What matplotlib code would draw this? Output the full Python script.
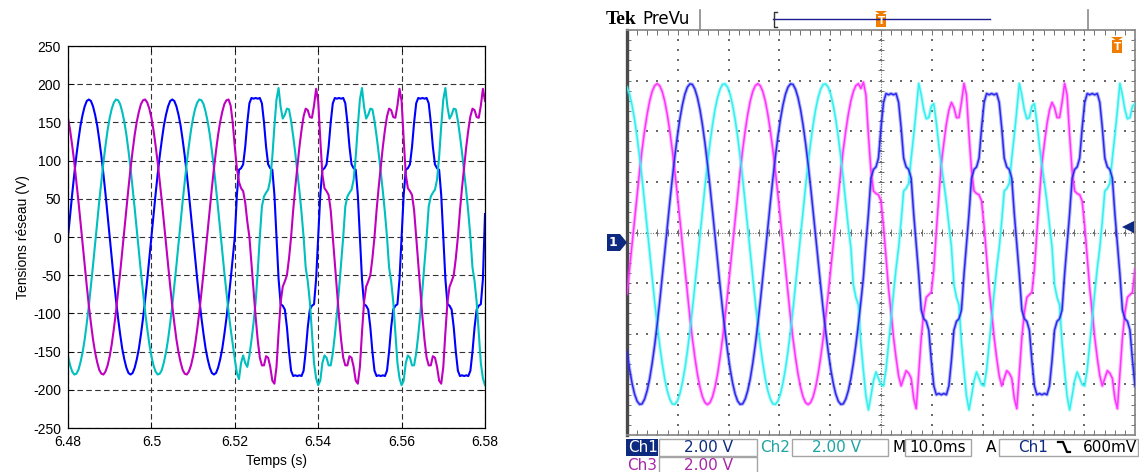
import numpy as np
import matplotlib
matplotlib.use("Agg")
import matplotlib.pyplot as plt
from matplotlib.patches import Rectangle, Polygon

W, H = 1139, 472

# ---------------- LEFT PANEL DATA (simulation, volts) ----------------
left_t_start, left_t_end, left_n = 6.48, 6.58, 201          # 0.5 ms sampling
left_xticks = [6.48, 6.50, 6.52, 6.54, 6.56, 6.58]
left_xticklabels = ['6.48', '6.5', '6.52', '6.54', '6.56', '6.58']
left_yticks = [-250, -200, -150, -100, -50, 0, 50, 100, 150, 200, 250]

# one 20 ms cycle read before the disturbance
blue_clean_cycle = [0, 28, 56, 82, 106, 127, 146, 160, 171, 178, 180, 178, 171, 160, 146, 127, 106, 82, 56, 28,
                    0, -28, -56, -82, -106, -127, -146, -160, -171, -178, -180, -178, -171, -160, -146, -127, -106, -82, -56, -28]
cyan_clean_cycle = [-156, -168, -176, -180, -179, -174, -164, -151, -134, -113, -90, -64, -37, -9, 19, 47, 73, 98, 120, 140,
                    156, 168, 176, 180, 179, 174, 164, 151, 134, 113, 90, 64, 37, 9, -19, -47, -73, -98, -120, -140]
magenta_clean_cycle = [156, 140, 120, 98, 73, 47, 19, -9, -37, -64, -90, -113, -134, -151, -164, -174, -179, -180, -176, -168,
                       -156, -140, -120, -98, -73, -47, -19, 9, 37, 64, 90, 113, 134, 151, 164, 174, 179, 180, 176, 168]
# one cycle read after the disturbance (t >= 6.52 s)
blue_dist_cycle = [0, 55, 88, 90, 95, 118, 150, 175, 182, 181, 182, 181, 182, 175, 150, 118, 95, 90, 88, 55,
                   0, -55, -88, -90, -95, -118, -150, -175, -182, -181, -182, -181, -182, -175, -150, -118, -95, -90, -88, -55]
cyan_dist_cycle = [0, 40, 53, 58, 62, 75, 105, 145, 180, 195, 170, 155, 160, 168, 167, 152, 132, 110, 85, 60, 32,
                   0, -40, -58, -85, -125, -165, -185, -194, -188, -165, -155, -158, -168, -168, -152, -128, -100, -68, -34]
cyan_transition = [9, -19, -47, -73, -98, -120, -140, -160, -178, -186, -165, -155, -165, -170, -155, -135, -112, -85, -45]
magenta_dist_pos = [0, 35, 65, 92, 118, 140, 158, 168, 166, 157, 156, 172, 194, 178, 128, 82, 64, 60, 55, 35]
magenta_dist_neg = [0, -35, -70, -105, -135, -158, -168, -168, -156, -158, -170, -188, -192, -170, -125, -85, -65, -58, -50, -28]
magenta_transition = [172, 150, 118, 90, 72, 64, 60, 45, 20]
blue_last = [30]

blue_left = blue_clean_cycle * 2 + blue_dist_cycle * 3 + blue_last
cyan_left = (cyan_clean_cycle + cyan_clean_cycle[:33] + cyan_transition
             + cyan_dist_cycle * 2 + cyan_dist_cycle[:29])
magenta_left = (magenta_clean_cycle + magenta_clean_cycle[:38] + magenta_transition
                + magenta_dist_neg + (magenta_dist_pos + magenta_dist_neg) * 2 + magenta_dist_pos[:14])

# ---------------- RIGHT PANEL DATA (oscilloscope, volts, 2 V/div, 10 ms/div) ----------------
scope_t_end, scope_n = 100.0, 203
scope_blue_clean = [-4.24, -4.93, -5.49, -5.92, -6.20, -6.33, -6.31, -6.12, -5.79, -5.32,
                    -4.71, -3.99, -3.17, -2.27, -1.32, -0.33, 0.66, 1.64, 2.58, 3.45,
                    4.24, 4.93, 5.49, 5.92, 6.20, 6.33, 6.31, 6.12, 5.79, 5.32,
                    4.71, 3.99, 3.17, 2.27, 1.32, 0.33, -0.66, -1.64, -2.58, -3.45]
scope_cyan_clean = [6.20, 5.92, 5.49, 4.93, 4.24, 3.45, 2.58, 1.64, 0.66, -0.33,
                    -1.32, -2.27, -3.17, -3.99, -4.71, -5.32, -5.79, -6.12, -6.31, -6.33,
                    -6.20, -5.92, -5.49, -4.93, -4.24, -3.45, -2.58, -1.64, -0.66, 0.33,
                    1.32, 2.27, 3.17, 3.99, 4.71, 5.32, 5.79, 6.12, 6.31, 6.33]
scope_magenta_clean = [-1.96, -0.99, 0, 0.99, 1.96, 2.88, 3.73, 4.48, 5.13, 5.65,
                       6.03, 6.26, 6.34, 6.26, 6.03, 5.65, 5.13, 4.48, 3.73, 2.88,
                       1.96, 0.99, 0, -0.99, -1.96, -2.88, -3.73, -4.48, -5.13, -5.65,
                       -6.03, -6.26, -6.34, -6.26, -6.03, -5.65, -5.13, -4.48, -3.73, -2.88]
scope_blue_dist = [0, 1.2, 2.6, 2.95, 3.05, 3.4, 4.6, 5.6, 5.95, 5.9,
                   5.95, 5.9, 5.95, 5.6, 4.6, 3.4, 3.05, 2.95, 2.6, 1.2,
                   0, -1.2, -2.6, -2.95, -3.05, -3.4, -4.6, -5.6, -5.95, -5.9,
                   -5.95, -5.9, -5.95, -5.6, -4.6, -3.4, -3.05, -2.95, -2.6, -1.2]
scope_cyan_dist = [0.9, 2.1, 2.2, 2.4, 3.4, 4.3, 5.3, 6.35, 5.9, 5.3,
                   4.95, 5.0, 5.45, 5.55, 4.8, 3.9, 3.1, 2.4, 1.65, 0.75,
                   -0.1, -1.6, -2.1, -2.4, -3.9, -5.0, -6.0, -6.55, -6.0, -5.4,
                   -5.05, -5.3, -5.55, -5.6, -4.95, -3.95, -2.95, -1.9, -0.95, -0.15]
scope_magenta_dist = [0.5, 1.9, 3.2, 4.0, 4.75, 5.3, 5.6, 5.4, 5.0, 5.0,
                      5.6, 6.35, 5.9, 4.3, 2.9, 2.1, 2.0, 1.95, 1.7, 0.7,
                      -0.5, -1.75, -2.7, -3.7, -4.5, -5.2, -5.6, -5.3, -5.0, -5.1,
                      -5.3, -6.1, -6.5, -5.1, -3.7, -2.7, -2.1, -2.0, -1.9, -1.0]
scope_magenta_transition = [6.34, 6.15, 6.4, 5.9, 4.3, 2.9, 2.1, 2.0, 1.95, 1.7, 0.7]

scope_blue = scope_blue_clean * 2 + scope_blue_clean[:15] + scope_blue_dist * 2 + scope_blue_dist[:28]
scope_cyan = (scope_cyan_clean * 2 + scope_cyan_clean[:9] + scope_cyan_dist[20:]
              + scope_cyan_dist * 2 + scope_cyan_dist[:14])
scope_magenta = (scope_magenta_clean * 2 + scope_magenta_clean[:12] + scope_magenta_transition
                 + scope_magenta_dist[20:] + scope_magenta_dist * 2)

# ---------------- FIGURE ----------------
plt.rcParams['font.family'] = ['Liberation Sans', 'DejaVu Sans']
plt.rcParams['axes.unicode_minus'] = False
fig = plt.figure(figsize=(W / 100, H / 100), dpi=100)
fig.patch.set_facecolor('white')

# ----- left axes -----
ax = fig.add_axes([68 / W, (H - 428) / H, 417 / W, 382 / H])
t_left = np.linspace(left_t_start, left_t_end, left_n)
ax.plot(t_left, blue_left, color='#0000ff', lw=1.5)
ax.plot(t_left, cyan_left, color='#00bfbf', lw=1.5)
ax.plot(t_left, magenta_left, color='#bf00bf', lw=1.5)
ax.set_xlim(left_t_start, left_t_end)
ax.set_ylim(-250, 250)
ax.set_xticks(left_xticks)
ax.set_xticklabels(left_xticklabels)
ax.set_yticks(left_yticks)
ax.tick_params(direction='in', length=4, width=0.6, top=True, right=True,
               labelsize=10, pad=5, colors='black')
ax.grid(True, color='#333333', lw=0.8, ls=(0, (5, 3)))
ax.set_axisbelow(True)
for sp in ax.spines.values():
    sp.set_linewidth(0.9)
    sp.set_color('black')
ax.set_xlabel('Temps (s)', fontsize=10, labelpad=4)
ax.set_ylabel('Tensions réseau (V)', fontsize=10, labelpad=2)

# ----- right axes (oscilloscope screen) -----
axr = fig.add_axes([627 / W, (H - 435) / H, 508 / W, 405 / H])
axr.set_xlim(0, scope_t_end)
axr.set_ylim(-8, 8)
axr.set_xticks([])
axr.set_yticks([])
for sp in axr.spines.values():
    sp.set_color('#8c8c8c')
    sp.set_linewidth(1.3)
axr.spines['left'].set_color('#4a4a4a')
axr.spines['left'].set_linewidth(2.4)

gx, gy = [], []
for xv in np.arange(0, 100.1, 10):
    for yv in np.arange(-8, 8.01, 0.4):
        gx.append(xv); gy.append(yv)
for yv in np.arange(-8, 8.01, 2):
    for xv in np.arange(0, 100.01, 2):
        gx.append(xv); gy.append(yv)
axr.scatter(gx, gy, s=1.3, marker='s', c='#6a6a6a', linewidths=0, zorder=1)
axr.axhline(0, color='#7a7a7a', lw=0.8, ls=(0, (1, 1.3)), zorder=1)
axr.axvline(50, color='#7a7a7a', lw=0.8, ls=(0, (1, 1.3)), zorder=1)
tick_x = np.arange(0, 100.01, 2)
tick_y = np.arange(-8, 8.01, 0.4)
axr.vlines(tick_x, -0.13, 0.13, color='#707070', lw=0.7, zorder=1)
axr.hlines(tick_y, 49.4, 50.6, color='#707070', lw=0.7, zorder=1)
axr.vlines(tick_x, 7.82, 8, color='#707070', lw=0.7, zorder=1)
axr.vlines(tick_x, -8, -7.82, color='#707070', lw=0.7, zorder=1)
axr.hlines(tick_y, 0, 0.7, color='#707070', lw=0.7, zorder=1)
axr.hlines(tick_y, 99.3, 100, color='#707070', lw=0.7, zorder=1)

scope_offset = -0.46
t_scope = np.linspace(0, scope_t_end, scope_n)
for vals, col in [(scope_magenta, '#ff33ff'), (scope_cyan, '#33f0f0'), (scope_blue, '#2a2aee')]:
    v = np.array(vals) + scope_offset
    axr.plot(t_scope, v, color=col, lw=2.6, alpha=0.35, zorder=3, solid_joinstyle='round')
    axr.plot(t_scope, v, color=col, lw=1.1, alpha=1.0, zorder=4, solid_joinstyle='round')

# ----- overlay for scope annotations (pixel coordinates) -----
ov = fig.add_axes([0, 0, 1, 1], zorder=10)
ov.set_xlim(0, W)
ov.set_ylim(H, 0)
ov.axis('off')

navy = '#0d2a80'
orange = '#f07c00'
# top bar
ov.text(606, 19, 'Tek', fontsize=14, fontweight='bold', family='Liberation Serif', va='center', ha='left', color='black')
ov.text(642, 19, 'PreVu', fontsize=12, family='DejaVu Sans', va='center', ha='left', color='black')
ov.plot([700, 700], [10, 30], color='#8a8a8a', lw=1.2)
ov.plot([1088, 1088], [10, 30], color='#8a8a8a', lw=1.2)
ov.plot([773, 990], [19, 19], color='#1c1c8c', lw=1.0)
ov.plot([777, 774, 774, 777], [12, 12, 27, 27], color='#333333', lw=1.0)
# trigger markers
def t_marker(cx, top):
    ov.add_patch(Polygon([(cx - 6, top), (cx + 6, top), (cx, top + 4)], closed=True, color=orange, lw=0))
    ov.add_patch(Rectangle((cx - 5, top + 3), 10, 13, color=orange, lw=0))
    ov.text(cx, top + 10, 'T', fontsize=7.5, fontweight='bold', color='white', ha='center', va='center',
            family='DejaVu Sans')
t_marker(881, 11)
t_marker(1117, 37)
# channel 1 ground marker
ov.add_patch(Polygon([(607, 234), (620, 234), (627, 242.5), (620, 251), (607, 251)], closed=True, color=navy, lw=0))
ov.text(613, 242.5, '1', fontsize=9, fontweight='bold', color='white', ha='center', va='center', family='DejaVu Sans')
# trigger level arrow
ov.add_patch(Polygon([(1122, 227), (1134, 221), (1134, 233)], closed=True, color=navy, lw=0))

# bottom readout
box_ec = '#a5a5a5'
ov.add_patch(Rectangle((626, 439), 32, 17, color=navy, lw=0))
ov.text(628, 447.5, 'Ch1', fontsize=11, color='white', ha='left', va='center', family='DejaVu Sans')
ov.add_patch(Rectangle((659, 439), 98, 17, fill=False, ec=box_ec, lw=1))
ov.text(684, 447.5, '2.00 V', fontsize=11, color=navy, ha='left', va='center', family='DejaVu Sans')
ov.text(760, 447.5, 'Ch2', fontsize=11, color='#1fa3a3', ha='left', va='center', family='DejaVu Sans')
ov.add_patch(Rectangle((792, 439), 96, 17, fill=False, ec=box_ec, lw=1))
ov.text(812, 447.5, '2.00 V', fontsize=11, color='#1fa3a3', ha='left', va='center', family='DejaVu Sans')
ov.text(893, 447.5, 'M', fontsize=11, color='black', ha='left', va='center', family='DejaVu Sans')
ov.add_patch(Rectangle((905, 439), 66, 17, fill=False, ec=box_ec, lw=1))
ov.text(909, 447.5, '10.0ms', fontsize=11, color='black', ha='left', va='center', family='DejaVu Sans')
ov.text(986, 447.5, 'A', fontsize=11, color='black', ha='left', va='center', family='DejaVu Sans')
ov.add_patch(Rectangle((999, 439), 139, 17, fill=False, ec=box_ec, lw=1))
ov.text(1018, 447.5, 'Ch1', fontsize=11, color=navy, ha='left', va='center', family='DejaVu Sans')
ov.plot([1058, 1063, 1067, 1070], [442, 442, 452, 452], color='black', lw=1.6)
ov.text(1083, 447.5, '600mV', fontsize=11, color='black', ha='left', va='center', family='DejaVu Sans')
ov.text(627, 465.5, 'Ch3', fontsize=11, color='#a826a8', ha='left', va='center', family='DejaVu Sans')
ov.add_patch(Rectangle((659, 457), 98, 17, fill=False, ec=box_ec, lw=1))
ov.text(684, 465.5, '2.00 V', fontsize=11, color='#a826a8', ha='left', va='center', family='DejaVu Sans')

fig.savefig('out.png', dpi=100, facecolor='white')
